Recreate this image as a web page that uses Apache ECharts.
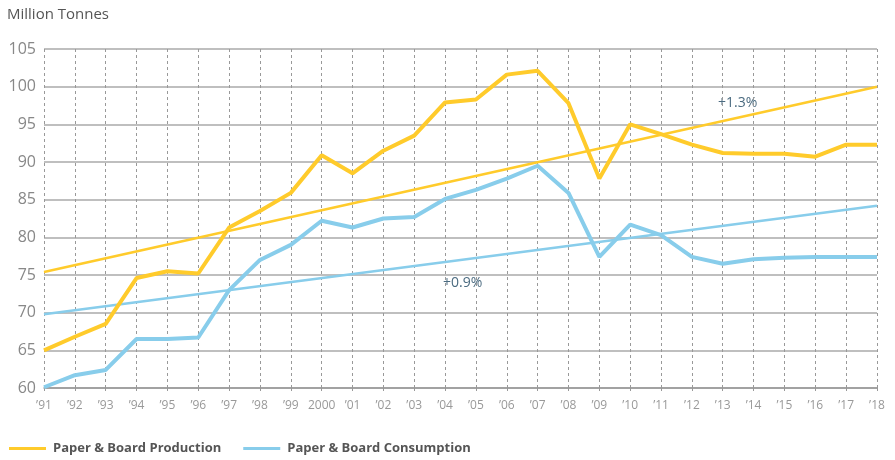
<!DOCTYPE html>
<html>
<head>
<meta charset="utf-8">
<script src="https://cdn.jsdelivr.net/npm/echarts@6/dist/echarts.min.js"></script>
<style>
  html, body { margin: 0; padding: 0; background: #fff; }
  #chart { width: 895px; height: 460px; }
</style>
</head>
<body>
<div id="chart"></div>
<script>
// years on the x axis
var years = ['\u201991', '\u201992', '\u201993', '\u201994', '\u201995', '\u201996', '\u201997', '\u201998', '\u201999', '2000',
  '\u201901', '\u201902', '\u201903', '\u201904', '\u201905', '\u201906', '\u201907', '\u201908', '\u201909', '\u201910',
  '\u201911', '\u201912', '\u201913', '\u201914', '\u201915', '\u201916', '\u201917', '\u201918']

var production = [65.0, 66.8, 68.5, 74.6, 75.5, 75.2, 81.3, 83.5, 85.9, 90.9,
  88.5, 91.5, 93.5, 97.9, 98.3, 101.6, 102.1, 97.8, 87.8, 95.0,
  93.7, 92.3, 91.2, 91.1, 91.1, 90.7, 92.3, 92.3]

var consumption = [60.1, 61.7, 62.4, 66.5, 66.5, 66.7, 73.0, 77.0, 79.0, 82.2,
  81.3, 82.5, 82.7, 85.1, 86.3, 87.8, 89.5, 85.9, 77.4, 81.7,
  80.3, 77.4, 76.5, 77.1, 77.3, 77.4, 77.4, 77.4]

// trend lines: value at first and last year
var productionTrend = [75.4, 100.0]
var consumptionTrend = [69.8, 84.2]

var yTicks = [60, 65, 70, 75, 80, 85, 90, 95, 100, 105]

var yellow = '#FFCB2B'
var blue = '#88CDEB'

function trendData(ends) {
  var d = years.map(function () { return null })
  d[0] = ends[0]
  d[d.length - 1] = ends[1]
  return d
}

var chart = echarts.init(document.getElementById('chart'))
var font = '"Open Sans", sans-serif'

chart.setOption({
  animation: false,
  textStyle: { fontFamily: font },
  grid: { left: 44, right: 18, top: 49, bottom: 72, containLabel: false },
  title: {
    text: 'Million Tonnes',
    left: 2,
    top: 2,
    textStyle: { color: '#555', fontSize: 15, fontWeight: 'normal', fontFamily: font }
  },
  legend: {
    data: ['Paper & Board Production', 'Paper & Board Consumption'],
    left: 4,
    bottom: 0,
    icon: 'rect',
    itemWidth: 37,
    itemHeight: 3,
    itemGap: 22,
    textStyle: { color: '#555', fontSize: 13, fontWeight: 'bold', fontFamily: font, padding: [0, 0, 0, 2] }
  },
  xAxis: {
    type: 'category',
    data: years,
    boundaryGap: false,
    axisLine: { lineStyle: { color: '#999', width: 1.5 } },
    axisTick: { show: true, length: 3, interval: 0, lineStyle: { color: '#999' } },
    axisLabel: { color: '#999', fontSize: 12, margin: 12, interval: 0 },
    splitLine: { show: true, interval: 0, lineStyle: { color: '#999', type: [3, 3], width: 1 } }
  },
  yAxis: {
    type: 'value',
    min: yTicks[0],
    max: yTicks[yTicks.length - 1],
    interval: 5,
    axisLine: { show: false },
    axisTick: { show: false },
    axisLabel: { color: '#888', fontSize: 16, margin: 8 },
    splitLine: { lineStyle: { color: '#aaa', width: 1.5 } }
  },
  graphic: [
    { type: 'text', left: 718, top: 96, style: { text: '+1.3%', fill: '#4B6B80', font: '14px "Open Sans", sans-serif' } },
    { type: 'text', left: 443, top: 276, style: { text: '+0.9%', fill: '#4B6B80', font: '14px "Open Sans", sans-serif' } }
  ],
  series: [
    {
      name: 'Production trend',
      type: 'line',
      data: trendData(productionTrend),
      connectNulls: true,
      symbol: 'none',
      lineStyle: { color: yellow, width: 2.5 },
      itemStyle: { color: yellow },
      z: 2
    },
    {
      name: 'Consumption trend',
      type: 'line',
      data: trendData(consumptionTrend),
      connectNulls: true,
      symbol: 'none',
      lineStyle: { color: blue, width: 2.5 },
      itemStyle: { color: blue },
      z: 2
    },
    {
      name: 'Paper & Board Production',
      type: 'line',
      data: production,
      symbol: 'none',
      lineStyle: { color: yellow, width: 4 },
      itemStyle: { color: yellow },
      z: 3
    },
    {
      name: 'Paper & Board Consumption',
      type: 'line',
      data: consumption,
      symbol: 'none',
      lineStyle: { color: blue, width: 4 },
      itemStyle: { color: blue },
      z: 3
    }
  ]
})
</script>
</body>
</html>
